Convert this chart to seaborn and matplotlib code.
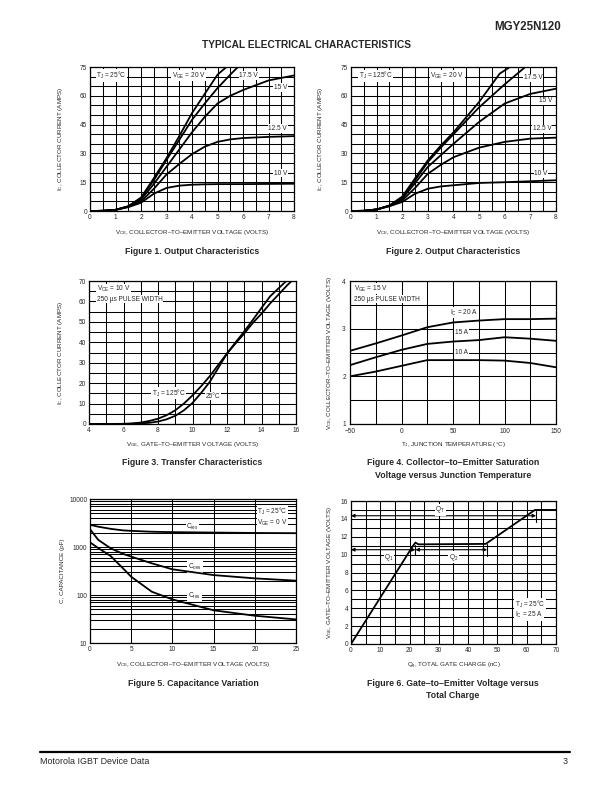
import matplotlib
matplotlib.use("Agg")
import matplotlib.pyplot as plt
from matplotlib.ticker import MultipleLocator, FixedLocator, NullFormatter, FuncFormatter
import pandas as pd
import seaborn as sns

# Figure 1: output characteristics, TJ = 25 C
vce1 = [0, 0.5, 1, 1.5, 2, 2.5, 3, 3.5, 4, 4.5, 5, 5.5, 6, 7, 8]
ic1_10v = [0, 0.1, 0.6, 2, 4.3, 9, 12, 13.2, 13.7, 13.9, 14, 14, 14, 14.1, 14.2]
ic1_125v = [0, 0.1, 0.6, 2.2, 5, 11.5, 19, 24.5, 29.6, 33.5, 36, 37.3, 38, 38.6, 39]
ic1_15v = [0, 0.1, 0.6, 2.3, 6, 14, 23, 32, 41, 49, 56, 60, 63, 68, 70.6]
vce1_175 = [0, 0.5, 1, 1.5, 2, 2.5, 3, 3.5, 4, 4.5, 5, 5.5, 5.8]
ic1_175v = [0, 0.1, 0.6, 2.4, 6.5, 16, 26.6, 37, 47.5, 56, 64, 71, 75]
vce1_20 = [0, 0.5, 1, 1.5, 2, 2.5, 3, 3.5, 4, 4.5, 5, 5.35]
ic1_20v = [0, 0.1, 0.6, 2.5, 7, 17, 27.5, 39, 51, 61, 71, 75]

# Figure 2: output characteristics, TJ = 125 C
vce2 = [0, 0.5, 1, 1.5, 2, 2.5, 3, 3.5, 4, 5, 6, 7, 8]
ic2_10v = [0, 0.1, 0.8, 2.5, 4.7, 9, 11.6, 12.8, 13.4, 14.6, 15, 15.5, 16]
ic2_125v = [0, 0.1, 0.8, 2.6, 5.5, 12, 19.4, 24, 28, 33, 36, 37.7, 38.2]
ic2_15v = [0, 0.1, 0.8, 2.7, 6.5, 14.5, 23, 29, 35, 46.4, 56, 61, 63.7]
vce2_175 = [0, 0.5, 1, 1.5, 2, 2.5, 3, 3.5, 4, 5, 6, 6.8]
ic2_175v = [0, 0.1, 0.8, 2.8, 7, 16, 25.5, 33, 40, 54, 66, 75]
vce2_20 = [0, 0.5, 1, 1.5, 2, 2.5, 3, 3.5, 4, 5, 5.5, 5.8, 6.2]
ic2_20v = [0, 0.1, 0.8, 2.9, 7.5, 17, 26.4, 34, 41, 56.8, 66, 71.5, 75]

# Figure 3: transfer characteristics
vge3 = [4, 5, 6, 6.5, 7, 7.5, 8, 8.5, 9, 9.5, 10, 10.5, 11, 11.5, 12, 12.5,
        13, 13.5, 14, 14.5, 15, 15.5, 16]
ic3_125c = [0, 0, 0.1, 0.3, 0.7, 1.5, 2.6, 4.3, 6.7, 10, 14, 18.5, 23.4, 29,
            34.5, 39.5, 44.3, 49.5, 54, 59, 63.5, 68, 72]
ic3_25c = [0, 0, 0, 0.1, 0.3, 0.6, 1.2, 2.3, 4, 6.7, 10.3, 15.2, 20.6, 27.5,
           34.5, 40, 45.3, 51, 56.8, 62.5, 66.5, 70.5, 74]

# Figure 4: VCE(sat) vs junction temperature
tj4 = [-50, -25, 0, 25, 50, 75, 100, 125, 150]
vce4_20a = [2.535, 2.69, 2.856, 3.03, 3.13, 3.17, 3.2, 3.2, 3.21]
vce4_15a = [2.235, 2.40, 2.556, 2.68, 2.73, 2.76, 2.82, 2.79, 2.745]
vce4_10a = [2.0, 2.1, 2.22, 2.34, 2.34, 2.34, 2.33, 2.28, 2.19]

# Figure 5: capacitance variation
vce5 = [0, 1, 2.5, 4, 5, 7.5, 10, 15, 20, 25]
cies = [2900, 2650, 2390, 2220, 2170, 2080, 2040, 2000, 1960, 1940]
coes = [2350, 1410, 940, 720, 630, 457, 343, 260, 222, 199]
cres = [1250, 950, 650, 360, 240, 117, 81, 48, 37, 31]

# Figure 6: gate charge
qg6 = [0, 21, 22, 23, 46, 62.8, 70]
vge6 = [0, 10.9, 11.35, 11.15, 11.2, 15, 15]

sns.set_style("white")
plt.rcParams["font.family"] = ["Liberation Sans", "DejaVu Sans"]
plt.rcParams["mathtext.fontset"] = "custom"
plt.rcParams["mathtext.rm"] = "Liberation Sans"
plt.rcParams["mathtext.it"] = "Liberation Sans"
plt.rcParams["mathtext.default"] = "regular"
plt.rcParams["axes.unicode_minus"] = True

TICK = 4.7
LAB = 4.5
NOTE = 4.7
BOX = dict(fc="white", ec="none", pad=0.4)


def long_form(curves):
    frames = []
    for name, (xs, ys) in curves.items():
        frames.append(pd.DataFrame({"x": xs, "y": ys, "curve": name}))
    return pd.concat(frames, ignore_index=True)


def draw_curves(ax, curves):
    df = long_form(curves)
    sns.lineplot(data=df, x="x", y="y", hue="curve", palette=["black"] * len(curves),
                 legend=False, ax=ax, linewidth=1.3, zorder=4, estimator=None)


def style_axes(ax, xmaj, xmin, ymaj, ymin):
    ax.xaxis.set_major_locator(MultipleLocator(xmaj))
    ax.xaxis.set_minor_locator(MultipleLocator(xmin))
    if ymaj is not None:
        ax.yaxis.set_major_locator(MultipleLocator(ymaj))
        ax.yaxis.set_minor_locator(MultipleLocator(ymin))
    ax.grid(True, which="both", color="black", linewidth=0.75)
    ax.set_axisbelow(True)
    ax.tick_params(which="both", labelsize=TICK, length=0, pad=2)
    for s in ax.spines.values():
        s.set_color("black")
        s.set_linewidth(0.9)


fig = plt.figure(figsize=(6.12, 7.92), dpi=100)


def px_axes(left, top, right, bottom):
    return fig.add_axes([left / 612, 1 - bottom / 792, (right - left) / 612, (bottom - top) / 792])


ax1 = px_axes(90, 67, 294, 211)
ax2 = px_axes(351, 67, 556, 211)
ax3 = px_axes(89, 281, 296, 424)
ax4 = px_axes(350, 281, 556, 424)
ax5 = px_axes(90, 499, 296, 643)
ax6 = px_axes(351, 501, 556, 644)

# ---- Figure 1
draw_curves(ax1, {"10": (vce1, ic1_10v), "12.5": (vce1, ic1_125v), "15": (vce1, ic1_15v),
                  "17.5": (vce1_175, ic1_175v), "20": (vce1_20, ic1_20v)})
ax1.set_xlim(0, 8)
ax1.set_ylim(0, 75)
style_axes(ax1, 1, 0.5, 15, 5)
ax1.text(0.25, 70.6, "T$_J$ = 25°C", fontsize=NOTE, va="center", bbox=BOX, zorder=3)
ax1.text(3.2, 70.6, "V$_{GE}$ = 20 V", fontsize=NOTE, va="center", bbox=BOX, zorder=3)
ax1.text(5.85, 70.6, "17.5 V", fontsize=NOTE, va="center", bbox=BOX, zorder=3)
ax1.text(7.2, 64.3, "15 V", fontsize=NOTE, va="center", bbox=BOX, zorder=3)
ax1.text(7.0, 43, "12.5 V", fontsize=NOTE, va="center", bbox=BOX, zorder=3)
ax1.text(7.2, 19.6, "10 V", fontsize=NOTE, va="center", bbox=BOX, zorder=3)

# ---- Figure 2
draw_curves(ax2, {"10": (vce2, ic2_10v), "12.5": (vce2, ic2_125v), "15": (vce2, ic2_15v),
                  "17.5": (vce2_175, ic2_175v), "20": (vce2_20, ic2_20v)})
ax2.set_xlim(0, 8)
ax2.set_ylim(0, 75)
style_axes(ax2, 1, 0.5, 15, 5)
ax2.text(0.3, 70.4, "T$_J$ = 125°C", fontsize=NOTE, va="center", bbox=BOX, zorder=3)
ax2.text(3.1, 70.4, "V$_{GE}$ = 20 V", fontsize=NOTE, va="center", bbox=BOX, zorder=3)
ax2.text(6.75, 69.4, "17.5 V", fontsize=NOTE, va="center", bbox=BOX, zorder=3)
ax2.text(7.35, 57.3, "15 V", fontsize=NOTE, va="center", bbox=BOX, zorder=3)
ax2.text(7.1, 42.9, "12.5 V", fontsize=NOTE, va="center", bbox=BOX, zorder=3)
ax2.text(7.15, 19.4, "10 V", fontsize=NOTE, va="center", bbox=BOX, zorder=3)

# ---- Figure 3
draw_curves(ax3, {"125": (vge3, ic3_125c), "25": (vge3, ic3_25c)})
ax3.set_xlim(4, 16)
ax3.set_ylim(0, 70)
style_axes(ax3, 2, 1, 10, 5)
ax3.text(4.45, 65.9, "V$_{CE}$ = 10 V", fontsize=NOTE, va="center", bbox=BOX, zorder=3)
ax3.text(4.45, 61.0, "250 µs PULSE WIDTH", fontsize=NOTE, va="center", bbox=BOX, zorder=3)
ax3.text(7.65, 15.2, "T$_J$ = 125°C", fontsize=NOTE, va="center", bbox=BOX, zorder=3)
ax3.text(10.75, 13.6, "25°C", fontsize=NOTE, va="center", bbox=BOX, zorder=3)

# ---- Figure 4
draw_curves(ax4, {"20": (tj4, vce4_20a), "15": (tj4, vce4_15a), "10": (tj4, vce4_10a)})
ax4.set_xlim(-50, 150)
ax4.set_ylim(1, 4)
style_axes(ax4, 50, 25, 1, 0.5)
ax4.tick_params(axis="both", pad=3)
ax4.text(-46, 3.84, "V$_{GE}$ = 15 V", fontsize=NOTE, va="center", bbox=BOX, zorder=3)
ax4.text(-46, 3.62, "250 µs PULSE WIDTH", fontsize=NOTE, va="center", bbox=BOX, zorder=3)
ax4.text(47, 3.34, "I$_C$ = 20 A", fontsize=NOTE, va="center", bbox=BOX, zorder=3)
ax4.text(52, 2.93, "15 A", fontsize=NOTE, va="center", bbox=BOX, zorder=3)
ax4.text(52, 2.5, "10 A", fontsize=NOTE, va="center", bbox=BOX, zorder=3)

# ---- Figure 5
draw_curves(ax5, {"ies": (vce5, cies), "oes": (vce5, coes), "res": (vce5, cres)})
ax5.set_yscale("log")
ax5.set_xlim(0, 25)
ax5.set_ylim(10, 10000)
style_axes(ax5, 5, 5, None, None)
ax5.yaxis.set_major_locator(FixedLocator([10, 100, 1000, 10000]))
ax5.yaxis.set_major_formatter(FuncFormatter(lambda v, p: f"{v:g}"))
ax5.yaxis.set_minor_locator(FixedLocator([m * d for d in (10, 100, 1000) for m in range(2, 10)]))
ax5.yaxis.set_minor_formatter(NullFormatter())
ax5.text(20.3, 5600, "T$_J$ = 25°C", fontsize=NOTE, va="center", bbox=BOX, zorder=3)
ax5.text(20.3, 3250, "V$_{GE}$ = 0 V", fontsize=NOTE, va="center", bbox=BOX, zorder=3)
ax5.text(11.7, 2650, "C$_{ies}$", fontsize=NOTE, va="center", bbox=BOX, zorder=3)
ax5.text(11.9, 380, "C$_{oes}$", fontsize=NOTE, va="center", bbox=BOX, zorder=3)
ax5.text(11.9, 95, "C$_{res}$", fontsize=NOTE, va="center", bbox=BOX, zorder=3)

# ---- Figure 6
draw_curves(ax6, {"vge": (qg6, vge6)})
ax6.set_xlim(0, 70)
ax6.set_ylim(0, 16)
style_axes(ax6, 10, 5, 2, 1)
arrow = dict(arrowstyle="<|-|>", color="black", lw=0.8, mutation_scale=5, shrinkA=0, shrinkB=0)
ax6.annotate("", xy=(0, 14.35), xytext=(63.2, 14.35), arrowprops=arrow, zorder=5)
ax6.annotate("", xy=(0, 10.55), xytext=(22, 10.55), arrowprops=arrow, zorder=5)
ax6.annotate("", xy=(22, 10.55), xytext=(46.5, 10.55), arrowprops=arrow, zorder=5)
ax6.plot([63.2, 63.2], [13.7, 14.9], color="black", lw=0.8, zorder=5)
ax6.plot([22, 22], [10.0, 11.1], color="black", lw=0.8, zorder=5)
ax6.plot([46.5, 46.5], [9.9, 11.2], color="black", lw=0.8, zorder=5)
ax6.text(30.5, 15.0, "Q$_T$", fontsize=NOTE, va="center", ha="center", bbox=BOX, zorder=6)
ax6.text(13, 9.7, "Q$_1$", fontsize=NOTE, va="center", ha="center", bbox=BOX, zorder=6)
ax6.text(35, 9.7, "Q$_2$", fontsize=NOTE, va="center", ha="center", bbox=BOX, zorder=6)
ax6.text(56, 4.4, "T$_J$ = 25°C", fontsize=NOTE, va="center", bbox=BOX, zorder=3)
ax6.text(56, 3.2, "I$_C$ = 25 A", fontsize=NOTE, va="center", bbox=BOX, zorder=3)

# axis labels
labels = [
    (ax1, "V$_{CE}$, COLLECTOR–TO–EMITTER VOLTAGE (VOLTS)", "I$_C$, COLLECTOR CURRENT (AMPS)", -0.123),
    (ax2, "V$_{CE}$, COLLECTOR–TO–EMITTER VOLTAGE (VOLTS)", "I$_C$, COLLECTOR CURRENT (AMPS)", -0.127),
    (ax3, "V$_{GE}$, GATE–TO–EMITTER VOLTAGE (VOLTS)", "I$_C$, COLLECTOR CURRENT (AMPS)", -0.116),
    (ax4, "T$_J$, JUNCTION TEMPERATURE (°C)", "V$_{CE}$, COLLECTOR–TO–EMITTER VOLTAGE (VOLTS)", -0.078),
    (ax5, "V$_{CE}$, COLLECTOR–TO–EMITTER VOLTAGE (VOLTS)", "C, CAPACITANCE (pF)", -0.121),
    (ax6, "Q$_g$, TOTAL GATE CHARGE (nC)", "V$_{GE}$, GATE–TO–EMITTER VOLTAGE (VOLTS)", -0.083),
]
for ax, xl, yl, yx in labels:
    ax.set_xlabel(xl, fontsize=LAB)
    ax.set_ylabel(yl, fontsize=LAB)
    ax.xaxis.set_label_coords(0.5, -0.115)
    ax.yaxis.set_label_coords(yx, 0.5)

# captions
CAP = 6.3
caps = [
    (192, 252, "Figure 1. Output Characteristics"),
    (453, 252, "Figure 2. Output Characteristics"),
    (192, 463, "Figure 3. Transfer Characteristics"),
    (453, 463, "Figure 4. Collector–to–Emitter Saturation"),
    (453, 476, "Voltage versus Junction Temperature"),
    (193, 683, "Figure 5. Capacitance Variation"),
    (453, 683, "Figure 6. Gate–to–Emitter Voltage versus"),
    (453, 696, "Total Charge"),
]
for x, y, t in caps:
    fig.text(x / 612, 1 - y / 792, t, fontsize=CAP, fontweight="bold", ha="center", va="center")

fig.text(561 / 612, 1 - 27.5 / 792, "MGY25N120", fontsize=8.3, fontweight="bold", ha="right", va="center")
fig.text(306 / 612, 1 - 45 / 792, "TYPICAL ELECTRICAL CHARACTERISTICS", fontsize=7.3,
         fontweight="bold", ha="center", va="center")
fig.add_artist(plt.Line2D([40 / 612, 570 / 612], [1 - 752 / 792, 1 - 752 / 792],
                          color="black", lw=1.6, transform=fig.transFigure))
fig.text(40 / 612, 1 - 762 / 792, "Motorola IGBT Device Data", fontsize=6.4, ha="left", va="center")
fig.text(568 / 612, 1 - 762 / 792, "3", fontsize=6.4, ha="right", va="center")

fig.savefig("out.png", dpi=100, facecolor="white")
